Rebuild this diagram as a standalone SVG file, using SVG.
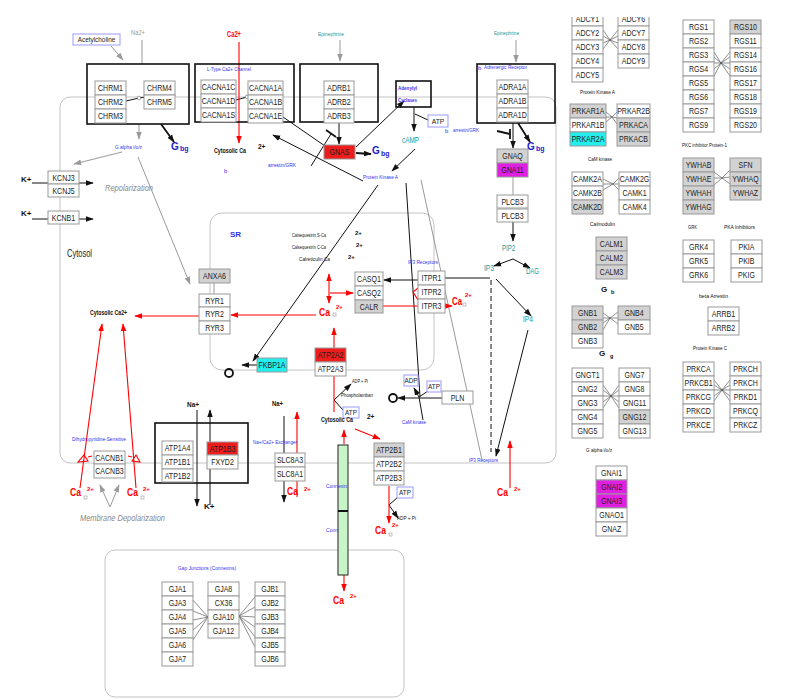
<svg xmlns="http://www.w3.org/2000/svg" width="787" height="700" viewBox="0 0 787 700">
<style>
text{font-family:"Liberation Sans",Arial,Helvetica,sans-serif}
.n rect{fill:#fff;stroke:#999;stroke-width:1}
.n text{font-size:9px;text-anchor:middle;fill:#222}
.gy rect{fill:#d2d2d2}
.rd rect{fill:#ee1c1c}
.mg rect{fill:#e020e0}
.cy rect{fill:#22eeee}
.cb rect{fill:#fff;stroke:#9999ff;stroke-width:1}
.cb text{font-size:8px;text-anchor:middle;fill:#222}
.grp{fill:none;stroke:#111;stroke-width:1.6}
.reg{fill:none;stroke:#c4c4c4;stroke-width:1}
.lb{font-size:6px;fill:#3333ee}
.lk{font-size:6px;fill:#111}
.bk{font-size:6.5px;fill:#111;font-weight:bold}
.tl{font-size:6px;fill:#119a9a}
.tm{font-size:9px;fill:#119a9a}
.ca{font-size:10px;font-weight:bold;fill:#f00}
.sp{font-size:6px;font-weight:bold;fill:#f00}
.gb{font-weight:bold;fill:#2222cc}
.k{stroke:#111;stroke-width:1;fill:none}
.kt{stroke:#111;stroke-width:1.8;fill:none}
.r{stroke:#f00;stroke-width:1.1;fill:none}
.g{stroke:#9a9a9a;stroke-width:1;fill:none}
.f{stroke:#444;stroke-width:.6;fill:none}
</style>
<defs>
<marker id="mk" markerUnits="userSpaceOnUse" markerWidth="8" markerHeight="8" viewBox="0 0 10 10" refX="9" refY="5" orient="auto"><path d="M0,1.5L10,5L0,8.5z" fill="#111"/></marker>
<marker id="mr" markerUnits="userSpaceOnUse" markerWidth="8" markerHeight="8" viewBox="0 0 10 10" refX="9" refY="5" orient="auto-start-reverse"><path d="M0,1.5L10,5L0,8.5z" fill="#f00"/></marker>
<marker id="mg" markerUnits="userSpaceOnUse" markerWidth="8" markerHeight="8" viewBox="0 0 10 10" refX="9" refY="5" orient="auto"><path d="M0,1.5L10,5L0,8.5z" fill="#9a9a9a"/></marker>
<clipPath id="clipTop"><rect x="-10" y="5" width="60" height="20"/></clipPath>
</defs>

<g id="regions">
<rect class="reg" x="60" y="97" width="496" height="366" rx="10"/>
<rect class="reg" x="210" y="213" width="224" height="157" rx="12"/>
<rect class="reg" x="105" y="550" width="299" height="147" rx="10"/>
</g>

<g id="connectors">
<line class="g" x1="111" y1="46" x2="123" y2="60" marker-end="url(#mg)"/>
<line class="g" x1="142" y1="40" x2="142" y2="64"/>
<line class="g" x1="139" y1="124" x2="139" y2="139" marker-end="url(#mg)"/>
<line class="g" x1="122" y1="152" x2="74" y2="164" marker-end="url(#mg)"/>
<line class="g" x1="138" y1="157" x2="190" y2="284" marker-end="url(#mg)"/>
<line class="g" x1="340" y1="40" x2="340" y2="61" marker-end="url(#mg)"/>
<line class="g" x1="516" y1="40" x2="516" y2="62" marker-end="url(#mg)"/>
<line class="g" x1="513" y1="177" x2="513" y2="195"/>
<line class="g" x1="421" y1="180" x2="482" y2="460"/>
<line class="g" x1="214" y1="283" x2="214" y2="294"/>
<line class="g" x1="110" y1="507" x2="100" y2="485" marker-end="url(#mg)"/>
<line class="g" x1="110" y1="507" x2="119" y2="485" marker-end="url(#mg)"/>

<line class="k" x1="32" y1="183" x2="93" y2="183" marker-end="url(#mk)"/>
<line class="k" x1="32" y1="219" x2="93" y2="219" marker-end="url(#mk)"/>
<line class="kt" x1="161" y1="124" x2="174" y2="142" marker-end="url(#mk)"/>
<line class="k" x1="339" y1="123" x2="339" y2="144" marker-end="url(#mk)"/>
<line class="kt" x1="356" y1="153" x2="371" y2="154" marker-end="url(#mk)"/>
<line class="k" x1="283" y1="117" x2="325" y2="146"/>
<line class="k" x1="311" y1="166" x2="331" y2="134"/>
<line class="kt" x1="326" y1="130" x2="336" y2="137"/>
<line class="k" x1="363" y1="181" x2="273" y2="135" marker-end="url(#mk)"/>
<line class="k" x1="378" y1="185" x2="253" y2="361" marker-end="url(#mk)"/>
<line class="k" x1="257" y1="365" x2="242" y2="365" marker-end="url(#mk)"/>
<line class="k" x1="356" y1="147" x2="404" y2="101" marker-end="url(#mk)"/>
<line class="k" x1="414" y1="107" x2="414" y2="131" marker-end="url(#mk)"/>
<line class="k" x1="415" y1="114" x2="428" y2="120"/>
<line class="k" x1="415" y1="149" x2="392" y2="171" marker-end="url(#mk)"/>
<line class="kt" x1="497" y1="131" x2="510" y2="134"/>
<line class="kt" x1="510" y1="129" x2="510" y2="139"/>
<line class="k" x1="513" y1="123" x2="513" y2="148" marker-end="url(#mk)"/>
<line class="kt" x1="518" y1="123" x2="530" y2="142" marker-end="url(#mk)"/>
<line class="k" x1="513" y1="222" x2="513" y2="241" marker-end="url(#mk)"/>
<line class="k" x1="513" y1="259" x2="494" y2="266" marker-end="url(#mk)"/>
<line class="k" x1="513" y1="259" x2="530" y2="268" marker-end="url(#mk)"/>
<line class="k" x1="496" y1="279" x2="531" y2="316" marker-end="url(#mk)"/>
<line class="k" x1="528" y1="330" x2="496" y2="456" marker-end="url(#mk)"/>
<line class="k" x1="491" y1="280" x2="491" y2="452" stroke-width="1.4" stroke-dasharray="5,3"/>
<line class="k" x1="445" y1="278" x2="490" y2="278"/>
<line class="k" x1="418" y1="280" x2="384" y2="280" marker-end="url(#mk)"/>
<line class="k" x1="334" y1="400" x2="351" y2="384" marker-end="url(#mk)"/>
<line class="k" x1="334" y1="400" x2="343" y2="410"/>
<line class="k" x1="442" y1="398" x2="398" y2="398" marker-end="url(#mk)"/>
<line class="k" x1="419" y1="397" x2="414" y2="388" marker-end="url(#mk)"/>
<line class="k" x1="419" y1="397" x2="428" y2="391"/>
<line class="k" x1="419" y1="397" x2="423" y2="420"/>
<line class="k" x1="406" y1="183" x2="420" y2="397"/>
<line class="k" x1="197" y1="410" x2="197" y2="506" marker-end="url(#mk)"/>
<line class="k" x1="210" y1="505" x2="210" y2="410" marker-end="url(#mk)"/>
<line class="k" x1="284" y1="416" x2="284" y2="502" marker-end="url(#mk)"/>
<line class="k" x1="389" y1="505" x2="398" y2="497"/>
<line class="k" x1="389" y1="505" x2="398" y2="518" marker-end="url(#mk)"/>
<circle class="kt" cx="229" cy="373" r="4" stroke-width="1.4"/>
<circle class="kt" cx="393" cy="398" r="4" stroke-width="1.4"/>
<path class="k" d="M126 101L139 98L160 95M236 100L247 97L262 96"/>
<g fill="#fff" stroke="#666" stroke-width=".6">
<circle cx="64" cy="183" r="1.8"/><circle cx="139" cy="98" r="1.8"/><circle cx="247" cy="97" r="1.8"/><circle cx="339" cy="95" r="1.8"/><circle cx="513" cy="94" r="1.8"/><circle cx="513" cy="163" r="1.8"/><circle cx="611" cy="251" r="1.5"/><circle cx="611" cy="494" r="1.5"/>
</g>

<line class="r" x1="239" y1="42" x2="239" y2="143" marker-end="url(#mr)"/>
<line class="r" x1="316" y1="315" x2="231" y2="315" marker-end="url(#mr)"/>
<line class="r" x1="199" y1="316" x2="135" y2="316" marker-end="url(#mr)"/>
<line class="r" x1="329" y1="303" x2="329" y2="274" marker-end="url(#mr)" marker-start="url(#mr)"/>
<line class="r" x1="330" y1="293" x2="353" y2="293" marker-end="url(#mr)"/>
<line class="r" x1="334" y1="348" x2="334" y2="328" marker-end="url(#mr)"/>
<line class="r" x1="334" y1="376" x2="334" y2="412"/>
<line class="r" x1="344" y1="444" x2="344" y2="430" marker-end="url(#mr)"/>
<line class="r" x1="355" y1="429" x2="380" y2="439" marker-end="url(#mr)"/>
<line class="r" x1="383" y1="306" x2="418" y2="306"/>
<line class="r" x1="445" y1="306" x2="452" y2="306" marker-end="url(#mr)"/>
<polyline class="r" points="418,288 413,292 418,300"/>
<line class="r" x1="510" y1="488" x2="510" y2="441" marker-end="url(#mr)"/>
<line class="r" x1="80" y1="488" x2="102" y2="324" marker-end="url(#mr)"/>
<line class="r" x1="136" y1="488" x2="123" y2="324" marker-end="url(#mr)"/>
<polygon class="r" points="78,462 84,455 88,461"/>
<line class="r" x1="88" y1="457" x2="92" y2="456"/>
<polygon class="r" points="132,461 136,455 140,462"/>
<line class="r" x1="128" y1="456" x2="132" y2="457"/>
<line class="r" x1="297" y1="497" x2="297" y2="412" marker-end="url(#mr)"/>
<line class="r" x1="344" y1="575" x2="344" y2="591" marker-end="url(#mr)"/>
<line class="r" x1="389" y1="486" x2="389" y2="523" marker-end="url(#mr)"/>

<path class="f" d="M603 30L610 40L618 30M603 36L610 40L618 36M603 43L610 40L618 43M603 49L610 40L618 49"/>
<path class="f" d="M606 112L612 117L617 112M606 117L612 117L617 118M606 122L612 117L617 124"/>
<path class="f" d="M603 179L613 184L619 178M603 184L613 184L619 184M603 190L613 184L619 190"/>
<path class="f" d="M603 313L610 318L618 312M603 318L610 318L618 318M603 323L610 318L618 324M603 330L610 318"/>
<path class="f" d="M603 385L611 396L619 385M603 390L611 396L619 390M603 396L611 396L619 396M603 402L611 396L619 402M603 408L611 396L619 408"/>
<path class="f" d="M714 52L721 63L730 52M714 57L721 63L730 57M714 63L721 63L730 63M714 69L721 63L730 69M714 76L721 63L730 76"/>
<path class="f" d="M714 172L722 178L730 170M714 178L722 178L730 177M714 185L722 178L730 184"/>
<path class="f" d="M714 380L722 390L730 380M714 385L722 390L730 385M714 390L722 390L730 390M714 396L722 390L730 396M714 401L722 390L730 401"/>
<path class="f" d="M193 600L208 617M193 611L208 617M193 620L208 617M193 630L208 617M193 640L208 617M239 616L255 597M239 616L255 607M239 616L255 617M239 616L255 627M239 616L255 637M239 616L255 647"/>
</g>

<g id="groups">
<g id="grp-muscarinic"><rect class="grp" x="87" y="64" width="102" height="60"/></g>
<g id="grp-ltype"><rect class="grp" x="195" y="64" width="99" height="58"/></g>
<g id="grp-adrb"><rect class="grp" x="300" y="64" width="78" height="58"/></g>
<g id="grp-adra"><rect class="grp" x="477" y="64" width="78" height="59"/></g>
<g id="grp-adenylyl"><rect class="grp" x="396" y="81" width="35" height="26"/></g>
<g id="grp-nak"><rect class="grp" x="155" y="423" width="93" height="60"/></g>
</g>

<g id="nodes">
<g id="CHRM1" class="n" transform="translate(95 81)"><rect width="31" height="14"/><text transform="translate(15.5 10.3) scale(.78 1)">CHRM1</text></g>
<g id="CHRM2" class="n" transform="translate(95 95)"><rect width="31" height="14"/><text transform="translate(15.5 10.3) scale(.78 1)">CHRM2</text></g>
<g id="CHRM3" class="n" transform="translate(95 109)"><rect width="31" height="14"/><text transform="translate(15.5 10.3) scale(.78 1)">CHRM3</text></g>
<g id="CHRM4" class="n" transform="translate(144 81)"><rect width="31" height="14"/><text transform="translate(15.5 10.3) scale(.78 1)">CHRM4</text></g>
<g id="CHRM5" class="n" transform="translate(144 95)"><rect width="31" height="14"/><text transform="translate(15.5 10.3) scale(.78 1)">CHRM5</text></g>
<g id="CACNA1C" class="n" transform="translate(201 80)"><rect width="35" height="14"/><text transform="translate(17.5 10.3) scale(.78 1)">CACNA1C</text></g>
<g id="CACNA1D" class="n" transform="translate(201 94)"><rect width="35" height="14"/><text transform="translate(17.5 10.3) scale(.78 1)">CACNA1D</text></g>
<g id="CACNA1S" class="n" transform="translate(201 108)"><rect width="35" height="14"/><text transform="translate(17.5 10.3) scale(.78 1)">CACNA1S</text></g>
<g id="CACNA1A" class="n" transform="translate(248 81)"><rect width="35" height="14"/><text transform="translate(17.5 10.3) scale(.78 1)">CACNA1A</text></g>
<g id="CACNA1B" class="n" transform="translate(248 95)"><rect width="35" height="14"/><text transform="translate(17.5 10.3) scale(.78 1)">CACNA1B</text></g>
<g id="CACNA1E" class="n" transform="translate(248 109)"><rect width="35" height="14"/><text transform="translate(17.5 10.3) scale(.78 1)">CACNA1E</text></g>
<g id="ADRB1" class="n" transform="translate(324 81)"><rect width="30" height="14"/><text transform="translate(15 10.3) scale(.78 1)">ADRB1</text></g>
<g id="ADRB2" class="n" transform="translate(324 95)"><rect width="30" height="14"/><text transform="translate(15 10.3) scale(.78 1)">ADRB2</text></g>
<g id="ADRB3" class="n" transform="translate(324 109)"><rect width="30" height="14"/><text transform="translate(15 10.3) scale(.78 1)">ADRB3</text></g>
<g id="ADRA1A" class="n" transform="translate(497 80)"><rect width="31" height="14"/><text transform="translate(15.5 10.3) scale(.78 1)">ADRA1A</text></g>
<g id="ADRA1B" class="n" transform="translate(497 94)"><rect width="31" height="14"/><text transform="translate(15.5 10.3) scale(.78 1)">ADRA1B</text></g>
<g id="ADRA1D" class="n" transform="translate(497 108)"><rect width="31" height="14"/><text transform="translate(15.5 10.3) scale(.78 1)">ADRA1D</text></g>
<g id="GNAS" class="n rd" transform="translate(324 145)"><rect width="31" height="14"/><text transform="translate(15.5 10.3) scale(.78 1)">GNAS</text></g>
<g id="GNAQ" class="n gy" transform="translate(497 149)"><rect width="31" height="14"/><text transform="translate(15.5 10.3) scale(.78 1)">GNAQ</text></g>
<g id="GNA11" class="n mg" transform="translate(497 163)"><rect width="31" height="14"/><text transform="translate(15.5 10.3) scale(.78 1)">GNA11</text></g>
<g id="PLCB3-a" class="n" transform="translate(497 195)"><rect width="31" height="13"/><text transform="translate(15.5 9.8) scale(.78 1)">PLCB3</text></g>
<g id="PLCB3-b" class="n" transform="translate(497 209)"><rect width="31" height="13"/><text transform="translate(15.5 9.8) scale(.78 1)">PLCB3</text></g>
<g id="KCNJ3" class="n" transform="translate(48 171)"><rect width="31" height="13"/><text transform="translate(15.5 9.8) scale(.78 1)">KCNJ3</text></g>
<g id="KCNJ5" class="n" transform="translate(48 184)"><rect width="31" height="13"/><text transform="translate(15.5 9.8) scale(.78 1)">KCNJ5</text></g>
<g id="KCNB1" class="n" transform="translate(48 211)"><rect width="31" height="13"/><text transform="translate(15.5 9.8) scale(.78 1)">KCNB1</text></g>
<g id="ANXA6" class="n gy" transform="translate(199 269)"><rect width="31" height="14"/><text transform="translate(15.5 10.3) scale(.78 1)">ANXA6</text></g>
<g id="RYR1" class="n" transform="translate(199 294)"><rect width="31" height="13"/><text transform="translate(15.5 9.8) scale(.78 1)">RYR1</text></g>
<g id="RYR2" class="n" transform="translate(199 307)"><rect width="31" height="14"/><text transform="translate(15.5 10.3) scale(.78 1)">RYR2</text></g>
<g id="RYR3" class="n" transform="translate(199 321)"><rect width="31" height="13"/><text transform="translate(15.5 9.8) scale(.78 1)">RYR3</text></g>
<g id="CASQ1" class="n" transform="translate(355 272)"><rect width="28" height="14"/><text transform="translate(14 10.3) scale(.78 1)">CASQ1</text></g>
<g id="CASQ2" class="n" transform="translate(355 286)"><rect width="28" height="14"/><text transform="translate(14 10.3) scale(.78 1)">CASQ2</text></g>
<g id="CALR" class="n gy" transform="translate(355 300)"><rect width="28" height="13"/><text transform="translate(14 9.8) scale(.78 1)">CALR</text></g>
<g id="ITPR1" class="n" transform="translate(418 271)"><rect width="27" height="14"/><text transform="translate(13.5 10.3) scale(.78 1)">ITPR1</text></g>
<g id="ITPR2" class="n" transform="translate(418 285)"><rect width="27" height="14"/><text transform="translate(13.5 10.3) scale(.78 1)">ITPR2</text></g>
<g id="ITPR3" class="n" transform="translate(418 299)"><rect width="27" height="14"/><text transform="translate(13.5 10.3) scale(.78 1)">ITPR3</text></g>
<g id="FKBP1A" class="n cy" transform="translate(257 358)"><rect width="30" height="14"/><text transform="translate(15 10.3) scale(.78 1)">FKBP1A</text></g>
<g id="ATP2A2" class="n rd" transform="translate(315 348)"><rect width="31" height="14"/><text transform="translate(15.5 10.3) scale(.78 1)">ATP2A2</text></g>
<g id="ATP2A3" class="n" transform="translate(315 362)"><rect width="31" height="14"/><text transform="translate(15.5 10.3) scale(.78 1)">ATP2A3</text></g>
<g id="PLN" class="n" transform="translate(442 391)"><rect width="31" height="13"/><text transform="translate(15.5 9.8) scale(.78 1)">PLN</text></g>
<g id="ATP1A4" class="n" transform="translate(162 441)"><rect width="31" height="14"/><text transform="translate(15.5 10.3) scale(.78 1)">ATP1A4</text></g>
<g id="ATP1B1" class="n" transform="translate(162 455)"><rect width="31" height="14"/><text transform="translate(15.5 10.3) scale(.78 1)">ATP1B1</text></g>
<g id="ATP1B2" class="n" transform="translate(162 469)"><rect width="31" height="13"/><text transform="translate(15.5 9.8) scale(.78 1)">ATP1B2</text></g>
<g id="ATP1B3" class="n rd" transform="translate(207 442)"><rect width="31" height="13"/><text transform="translate(15.5 9.8) scale(.78 1)">ATP1B3</text></g>
<g id="FXYD2" class="n" transform="translate(207 455)"><rect width="31" height="14"/><text transform="translate(15.5 10.3) scale(.78 1)">FXYD2</text></g>
<g id="SLC8A3" class="n" transform="translate(275 453)"><rect width="30" height="14"/><text transform="translate(15 10.3) scale(.78 1)">SLC8A3</text></g>
<g id="SLC8A1" class="n" transform="translate(275 467)"><rect width="30" height="14"/><text transform="translate(15 10.3) scale(.78 1)">SLC8A1</text></g>
<g id="CACNB1" class="n" transform="translate(94 451)"><rect width="31" height="13"/><text transform="translate(15.5 9.8) scale(.78 1)">CACNB1</text></g>
<g id="CACNB3" class="n" transform="translate(94 464)"><rect width="31" height="14"/><text transform="translate(15.5 10.3) scale(.78 1)">CACNB3</text></g>
<g id="ATP2B1" class="n gy" transform="translate(374 443)"><rect width="30" height="14"/><text transform="translate(15 10.3) scale(.78 1)">ATP2B1</text></g>
<g id="ATP2B2" class="n" transform="translate(374 457)"><rect width="30" height="14"/><text transform="translate(15 10.3) scale(.78 1)">ATP2B2</text></g>
<g id="ATP2B3" class="n" transform="translate(374 471)"><rect width="30" height="14"/><text transform="translate(15 10.3) scale(.78 1)">ATP2B3</text></g>
<g id="connexin"><rect x="338" y="445" width="10" height="130" fill="#c8f5c8" stroke="#222" stroke-width="1"/><line x1="338" y1="511" x2="348" y2="511" stroke="#111" stroke-width="2"/></g>

<g id="Acetylcholine" class="cb" transform="translate(73 34)"><rect width="47" height="11"/><text transform="translate(23.5 8.3) scale(.8 1)" font-size="7.5">Acetylcholine</text></g>
<g id="ATP-a" class="cb" transform="translate(428 115)"><rect width="20" height="12"/><text transform="translate(10 9) scale(.85 1)">ATP</text></g>
<g id="ATP-b" class="cb" transform="translate(343 407)"><rect width="16" height="11"/><text transform="translate(8 8.3) scale(.8 1)">ATP</text></g>
<g id="ADP-c" class="cb" transform="translate(404 375)"><rect width="14" height="11"/><text transform="translate(7 8.3) scale(.8 1)">ADP</text></g>
<g id="ATP-c" class="cb" transform="translate(427 381)"><rect width="14" height="11"/><text transform="translate(7 8.3) scale(.8 1)">ATP</text></g>
<g id="ATP-d" class="cb" transform="translate(397 487)"><rect width="16" height="11"/><text transform="translate(8 8.3) scale(.8 1)">ATP</text></g>

<g id="GJA1" class="n" transform="translate(162 582)"><rect width="31" height="14"/><text transform="translate(15.5 10.3) scale(.78 1)">GJA1</text></g>
<g id="GJA3" class="n" transform="translate(162 596)"><rect width="31" height="14"/><text transform="translate(15.5 10.3) scale(.78 1)">GJA3</text></g>
<g id="GJA4" class="n" transform="translate(162 610)"><rect width="31" height="14"/><text transform="translate(15.5 10.3) scale(.78 1)">GJA4</text></g>
<g id="GJA5" class="n" transform="translate(162 624)"><rect width="31" height="14"/><text transform="translate(15.5 10.3) scale(.78 1)">GJA5</text></g>
<g id="GJA6" class="n" transform="translate(162 638)"><rect width="31" height="14"/><text transform="translate(15.5 10.3) scale(.78 1)">GJA6</text></g>
<g id="GJA7" class="n" transform="translate(162 652)"><rect width="31" height="14"/><text transform="translate(15.5 10.3) scale(.78 1)">GJA7</text></g>
<g id="GJA8" class="n" transform="translate(208 582)"><rect width="31" height="14"/><text transform="translate(15.5 10.3) scale(.78 1)">GJA8</text></g>
<g id="CX36" class="n" transform="translate(208 596)"><rect width="31" height="14"/><text transform="translate(15.5 10.3) scale(.78 1)">CX36</text></g>
<g id="GJA10" class="n" transform="translate(208 610)"><rect width="31" height="14"/><text transform="translate(15.5 10.3) scale(.78 1)">GJA10</text></g>
<g id="GJA12" class="n" transform="translate(208 624)"><rect width="31" height="14"/><text transform="translate(15.5 10.3) scale(.78 1)">GJA12</text></g>
<g id="GJB1" class="n" transform="translate(255 582)"><rect width="30" height="14"/><text transform="translate(15 10.3) scale(.78 1)">GJB1</text></g>
<g id="GJB2" class="n" transform="translate(255 596)"><rect width="30" height="14"/><text transform="translate(15 10.3) scale(.78 1)">GJB2</text></g>
<g id="GJB3" class="n" transform="translate(255 610)"><rect width="30" height="14"/><text transform="translate(15 10.3) scale(.78 1)">GJB3</text></g>
<g id="GJB4" class="n" transform="translate(255 624)"><rect width="30" height="14"/><text transform="translate(15 10.3) scale(.78 1)">GJB4</text></g>
<g id="GJB5" class="n" transform="translate(255 638)"><rect width="30" height="14"/><text transform="translate(15 10.3) scale(.78 1)">GJB5</text></g>
<g id="GJB6" class="n" transform="translate(255 652)"><rect width="30" height="14"/><text transform="translate(15 10.3) scale(.78 1)">GJB6</text></g>

<g id="ADCY1" class="n" clip-path="url(#clipTop)" transform="translate(572 12)"><rect width="31" height="14"/><text transform="translate(15.5 10.3) scale(.78 1)">ADCY1</text></g>
<g id="ADCY2" class="n" transform="translate(572 26)"><rect width="31" height="14"/><text transform="translate(15.5 10.3) scale(.78 1)">ADCY2</text></g>
<g id="ADCY3" class="n" transform="translate(572 40)"><rect width="31" height="14"/><text transform="translate(15.5 10.3) scale(.78 1)">ADCY3</text></g>
<g id="ADCY4" class="n" transform="translate(572 54)"><rect width="31" height="14"/><text transform="translate(15.5 10.3) scale(.78 1)">ADCY4</text></g>
<g id="ADCY5" class="n" transform="translate(572 68)"><rect width="31" height="14"/><text transform="translate(15.5 10.3) scale(.78 1)">ADCY5</text></g>
<g id="ADCY6" class="n" clip-path="url(#clipTop)" transform="translate(618 12)"><rect width="31" height="14"/><text transform="translate(15.5 10.3) scale(.78 1)">ADCY6</text></g>
<g id="ADCY7" class="n" transform="translate(618 26)"><rect width="31" height="14"/><text transform="translate(15.5 10.3) scale(.78 1)">ADCY7</text></g>
<g id="ADCY8" class="n" transform="translate(618 40)"><rect width="31" height="14"/><text transform="translate(15.5 10.3) scale(.78 1)">ADCY8</text></g>
<g id="ADCY9" class="n" transform="translate(618 54)"><rect width="31" height="14"/><text transform="translate(15.5 10.3) scale(.78 1)">ADCY9</text></g>

<g id="PRKAR1A" class="n gy" transform="translate(570 104)"><rect width="36" height="14"/><text transform="translate(18 10.3) scale(.78 1)">PRKAR1A</text></g>
<g id="PRKAR1B" class="n" transform="translate(570 118)"><rect width="36" height="14"/><text transform="translate(18 10.3) scale(.78 1)">PRKAR1B</text></g>
<g id="PRKAR2A" class="n cy" transform="translate(570 132)"><rect width="36" height="14"/><text transform="translate(18 10.3) scale(.78 1)">PRKAR2A</text></g>
<g id="PRKAR2B" class="n" transform="translate(617 104)"><rect width="33" height="14"/><text transform="translate(16.5 10.3) scale(.78 1)">PRKAR2B</text></g>
<g id="PRKACA" class="n gy" transform="translate(617 118)"><rect width="33" height="14"/><text transform="translate(16.5 10.3) scale(.78 1)">PRKACA</text></g>
<g id="PRKACB" class="n gy" transform="translate(617 132)"><rect width="33" height="14"/><text transform="translate(16.5 10.3) scale(.78 1)">PRKACB</text></g>

<g id="CAMK2A" class="n" transform="translate(572 172)"><rect width="31" height="14"/><text transform="translate(15.5 10.3) scale(.78 1)">CAMK2A</text></g>
<g id="CAMK2B" class="n" transform="translate(572 186)"><rect width="31" height="14"/><text transform="translate(15.5 10.3) scale(.78 1)">CAMK2B</text></g>
<g id="CAMK2D" class="n gy" transform="translate(572 200)"><rect width="31" height="14"/><text transform="translate(15.5 10.3) scale(.78 1)">CAMK2D</text></g>
<g id="CAMK2G" class="n" transform="translate(619 172)"><rect width="31" height="14"/><text transform="translate(15.5 10.3) scale(.78 1)">CAMK2G</text></g>
<g id="CAMK1" class="n" transform="translate(619 186)"><rect width="31" height="14"/><text transform="translate(15.5 10.3) scale(.78 1)">CAMK1</text></g>
<g id="CAMK4" class="n" transform="translate(619 200)"><rect width="31" height="14"/><text transform="translate(15.5 10.3) scale(.78 1)">CAMK4</text></g>

<g id="CALM1" class="n gy" transform="translate(596 237)"><rect width="31" height="14"/><text transform="translate(15.5 10.3) scale(.78 1)">CALM1</text></g>
<g id="CALM2" class="n gy" transform="translate(596 251)"><rect width="31" height="14"/><text transform="translate(15.5 10.3) scale(.78 1)">CALM2</text></g>
<g id="CALM3" class="n gy" transform="translate(596 265)"><rect width="31" height="14"/><text transform="translate(15.5 10.3) scale(.78 1)">CALM3</text></g>

<g id="GNB1" class="n gy" transform="translate(572 306)"><rect width="31" height="14"/><text transform="translate(15.5 10.3) scale(.78 1)">GNB1</text></g>
<g id="GNB2" class="n gy" transform="translate(572 320)"><rect width="31" height="14"/><text transform="translate(15.5 10.3) scale(.78 1)">GNB2</text></g>
<g id="GNB3" class="n" transform="translate(572 334)"><rect width="31" height="14"/><text transform="translate(15.5 10.3) scale(.78 1)">GNB3</text></g>
<g id="GNB4" class="n gy" transform="translate(618 306)"><rect width="32" height="14"/><text transform="translate(16 10.3) scale(.78 1)">GNB4</text></g>
<g id="GNB5" class="n" transform="translate(618 320)"><rect width="32" height="14"/><text transform="translate(16 10.3) scale(.78 1)">GNB5</text></g>

<g id="GNGT1" class="n" transform="translate(572 368)"><rect width="31" height="14"/><text transform="translate(15.5 10.3) scale(.78 1)">GNGT1</text></g>
<g id="GNG2" class="n" transform="translate(572 382)"><rect width="31" height="14"/><text transform="translate(15.5 10.3) scale(.78 1)">GNG2</text></g>
<g id="GNG3" class="n" transform="translate(572 396)"><rect width="31" height="14"/><text transform="translate(15.5 10.3) scale(.78 1)">GNG3</text></g>
<g id="GNG4" class="n" transform="translate(572 410)"><rect width="31" height="14"/><text transform="translate(15.5 10.3) scale(.78 1)">GNG4</text></g>
<g id="GNG5" class="n" transform="translate(572 424)"><rect width="31" height="14"/><text transform="translate(15.5 10.3) scale(.78 1)">GNG5</text></g>
<g id="GNG7" class="n" transform="translate(619 368)"><rect width="31" height="14"/><text transform="translate(15.5 10.3) scale(.78 1)">GNG7</text></g>
<g id="GNG8" class="n" transform="translate(619 382)"><rect width="31" height="14"/><text transform="translate(15.5 10.3) scale(.78 1)">GNG8</text></g>
<g id="GNG11" class="n" transform="translate(619 396)"><rect width="31" height="14"/><text transform="translate(15.5 10.3) scale(.78 1)">GNG11</text></g>
<g id="GNG12" class="n gy" transform="translate(619 410)"><rect width="31" height="14"/><text transform="translate(15.5 10.3) scale(.78 1)">GNG12</text></g>
<g id="GNG13" class="n" transform="translate(619 424)"><rect width="31" height="14"/><text transform="translate(15.5 10.3) scale(.78 1)">GNG13</text></g>

<g id="GNAI1" class="n" transform="translate(596 466)"><rect width="31" height="14"/><text transform="translate(15.5 10.3) scale(.78 1)">GNAI1</text></g>
<g id="GNAI2" class="n mg" transform="translate(596 480)"><rect width="31" height="14"/><text transform="translate(15.5 10.3) scale(.78 1)">GNAI2</text></g>
<g id="GNAI3" class="n mg" transform="translate(596 494)"><rect width="31" height="14"/><text transform="translate(15.5 10.3) scale(.78 1)">GNAI3</text></g>
<g id="GNAO1" class="n" transform="translate(596 508)"><rect width="31" height="14"/><text transform="translate(15.5 10.3) scale(.78 1)">GNAO1</text></g>
<g id="GNAZ" class="n" transform="translate(596 522)"><rect width="31" height="14"/><text transform="translate(15.5 10.3) scale(.78 1)">GNAZ</text></g>

<g id="RGS1" class="n" transform="translate(683 20)"><rect width="31" height="14"/><text transform="translate(15.5 10.3) scale(.78 1)">RGS1</text></g>
<g id="RGS2" class="n" transform="translate(683 34)"><rect width="31" height="14"/><text transform="translate(15.5 10.3) scale(.78 1)">RGS2</text></g>
<g id="RGS3" class="n" transform="translate(683 48)"><rect width="31" height="14"/><text transform="translate(15.5 10.3) scale(.78 1)">RGS3</text></g>
<g id="RGS4" class="n" transform="translate(683 62)"><rect width="31" height="14"/><text transform="translate(15.5 10.3) scale(.78 1)">RGS4</text></g>
<g id="RGS5" class="n" transform="translate(683 76)"><rect width="31" height="14"/><text transform="translate(15.5 10.3) scale(.78 1)">RGS5</text></g>
<g id="RGS6" class="n" transform="translate(683 90)"><rect width="31" height="14"/><text transform="translate(15.5 10.3) scale(.78 1)">RGS6</text></g>
<g id="RGS7" class="n" transform="translate(683 104)"><rect width="31" height="14"/><text transform="translate(15.5 10.3) scale(.78 1)">RGS7</text></g>
<g id="RGS9" class="n" transform="translate(683 118)"><rect width="31" height="14"/><text transform="translate(15.5 10.3) scale(.78 1)">RGS9</text></g>
<g id="RGS10" class="n gy" transform="translate(730 20)"><rect width="31" height="14"/><text transform="translate(15.5 10.3) scale(.78 1)">RGS10</text></g>
<g id="RGS11" class="n" transform="translate(730 34)"><rect width="31" height="14"/><text transform="translate(15.5 10.3) scale(.78 1)">RGS11</text></g>
<g id="RGS14" class="n" transform="translate(730 48)"><rect width="31" height="14"/><text transform="translate(15.5 10.3) scale(.78 1)">RGS14</text></g>
<g id="RGS16" class="n" transform="translate(730 62)"><rect width="31" height="14"/><text transform="translate(15.5 10.3) scale(.78 1)">RGS16</text></g>
<g id="RGS17" class="n" transform="translate(730 76)"><rect width="31" height="14"/><text transform="translate(15.5 10.3) scale(.78 1)">RGS17</text></g>
<g id="RGS18" class="n" transform="translate(730 90)"><rect width="31" height="14"/><text transform="translate(15.5 10.3) scale(.78 1)">RGS18</text></g>
<g id="RGS19" class="n" transform="translate(730 104)"><rect width="31" height="14"/><text transform="translate(15.5 10.3) scale(.78 1)">RGS19</text></g>
<g id="RGS20" class="n" transform="translate(730 118)"><rect width="31" height="14"/><text transform="translate(15.5 10.3) scale(.78 1)">RGS20</text></g>

<g id="YWHAB" class="n gy" transform="translate(683 158)"><rect width="31" height="14"/><text transform="translate(15.5 10.3) scale(.78 1)">YWHAB</text></g>
<g id="YWHAE" class="n gy" transform="translate(683 172)"><rect width="31" height="14"/><text transform="translate(15.5 10.3) scale(.78 1)">YWHAE</text></g>
<g id="YWHAH" class="n gy" transform="translate(683 186)"><rect width="31" height="14"/><text transform="translate(15.5 10.3) scale(.78 1)">YWHAH</text></g>
<g id="YWHAG" class="n gy" transform="translate(683 200)"><rect width="31" height="14"/><text transform="translate(15.5 10.3) scale(.78 1)">YWHAG</text></g>
<g id="SFN" class="n gy" transform="translate(730 158)"><rect width="31" height="14"/><text transform="translate(15.5 10.3) scale(.78 1)">SFN</text></g>
<g id="YWHAQ" class="n gy" transform="translate(730 172)"><rect width="31" height="14"/><text transform="translate(15.5 10.3) scale(.78 1)">YWHAQ</text></g>
<g id="YWHAZ" class="n gy" transform="translate(730 186)"><rect width="31" height="14"/><text transform="translate(15.5 10.3) scale(.78 1)">YWHAZ</text></g>

<g id="GRK4" class="n" transform="translate(683 240)"><rect width="31" height="14"/><text transform="translate(15.5 10.3) scale(.78 1)">GRK4</text></g>
<g id="GRK5" class="n" transform="translate(683 254)"><rect width="31" height="14"/><text transform="translate(15.5 10.3) scale(.78 1)">GRK5</text></g>
<g id="GRK6" class="n" transform="translate(683 268)"><rect width="31" height="14"/><text transform="translate(15.5 10.3) scale(.78 1)">GRK6</text></g>
<g id="PKIA" class="n" transform="translate(731 240)"><rect width="31" height="14"/><text transform="translate(15.5 10.3) scale(.78 1)">PKIA</text></g>
<g id="PKIB" class="n" transform="translate(731 254)"><rect width="31" height="14"/><text transform="translate(15.5 10.3) scale(.78 1)">PKIB</text></g>
<g id="PKIG" class="n" transform="translate(731 268)"><rect width="31" height="14"/><text transform="translate(15.5 10.3) scale(.78 1)">PKIG</text></g>
<g id="ARRB1" class="n" transform="translate(708 307)"><rect width="31" height="14"/><text transform="translate(15.5 10.3) scale(.78 1)">ARRB1</text></g>
<g id="ARRB2" class="n" transform="translate(708 321)"><rect width="31" height="14"/><text transform="translate(15.5 10.3) scale(.78 1)">ARRB2</text></g>

<g id="PRKCA" class="n" transform="translate(683 362)"><rect width="31" height="14"/><text transform="translate(15.5 10.3) scale(.78 1)">PRKCA</text></g>
<g id="PRKCB1" class="n" transform="translate(683 376)"><rect width="31" height="14"/><text transform="translate(15.5 10.3) scale(.78 1)">PRKCB1</text></g>
<g id="PRKCG" class="n" transform="translate(683 390)"><rect width="31" height="14"/><text transform="translate(15.5 10.3) scale(.78 1)">PRKCG</text></g>
<g id="PRKCD" class="n" transform="translate(683 404)"><rect width="31" height="14"/><text transform="translate(15.5 10.3) scale(.78 1)">PRKCD</text></g>
<g id="PRKCE" class="n" transform="translate(683 418)"><rect width="31" height="14"/><text transform="translate(15.5 10.3) scale(.78 1)">PRKCE</text></g>
<g id="PRKCH-a" class="n" transform="translate(730 362)"><rect width="31" height="14"/><text transform="translate(15.5 10.3) scale(.78 1)">PRKCH</text></g>
<g id="PRKCH-b" class="n" transform="translate(730 376)"><rect width="31" height="14"/><text transform="translate(15.5 10.3) scale(.78 1)">PRKCH</text></g>
<g id="PRKD1" class="n" transform="translate(730 390)"><rect width="31" height="14"/><text transform="translate(15.5 10.3) scale(.78 1)">PRKD1</text></g>
<g id="PRKCQ" class="n" transform="translate(730 404)"><rect width="31" height="14"/><text transform="translate(15.5 10.3) scale(.78 1)">PRKCQ</text></g>
<g id="PRKCZ" class="n" transform="translate(730 418)"><rect width="31" height="14"/><text transform="translate(15.5 10.3) scale(.78 1)">PRKCZ</text></g>
</g>

<g id="labels">
<text x="131" y="35" font-size="8" fill="#999" textLength="14" lengthAdjust="spacingAndGlyphs">Na2+</text>
<text class="lb" x="115" y="149" textLength="27" lengthAdjust="spacingAndGlyphs">G alpha i/o/z</text>
<text class="gb" x="171" y="150" font-size="10">G</text><text class="gb" x="180" y="151" font-size="7">bg</text>
<text x="105" y="191" font-size="9" font-style="italic" fill="#888" textLength="48" lengthAdjust="spacingAndGlyphs">Repolarization</text>
<text x="21" y="182" font-size="8" font-weight="bold" fill="#111">K+</text>
<text x="21" y="216" font-size="8" font-weight="bold" fill="#111">K+</text>
<text x="67" y="257" font-size="11" fill="#222" textLength="25" lengthAdjust="spacingAndGlyphs">Cytosol</text>
<text x="227" y="37" font-size="9" font-weight="bold" fill="#f00" textLength="14" lengthAdjust="spacingAndGlyphs">Ca2+</text>
<text class="lb" x="207" y="71" textLength="44" lengthAdjust="spacingAndGlyphs">L-Type Ca2+ Channel</text>
<text class="bk" x="214" y="153" textLength="32" lengthAdjust="spacingAndGlyphs">Cytosolic Ca</text>
<text class="bk" x="258" y="149" font-size="6">2+</text>
<text class="lb" x="224" y="173">b</text>
<text class="lb" x="268" y="167" textLength="28" lengthAdjust="spacingAndGlyphs">arrestin/GRK</text>
<text class="tl" x="318" y="36" textLength="26" lengthAdjust="spacingAndGlyphs">Epinephrine</text>
<text class="tl" x="494" y="35" textLength="25" lengthAdjust="spacingAndGlyphs">Epinephrine</text>
<text class="gb" x="372" y="154" font-size="10">G</text><text class="gb" x="381" y="156" font-size="7">bg</text>
<text class="lb" x="363" y="179" textLength="35" lengthAdjust="spacingAndGlyphs">Protein Kinase A</text>
<text class="lb" x="398" y="90" font-weight="bold" textLength="19" lengthAdjust="spacingAndGlyphs">Adenylyl</text>
<text class="lb" x="398" y="102" font-weight="bold" textLength="19" lengthAdjust="spacingAndGlyphs">Cyclases</text>
<text class="tm" x="402" y="143" textLength="17" lengthAdjust="spacingAndGlyphs">cAMP</text>
<text class="lb" x="445" y="133">b</text>
<text class="lb" x="453" y="132" textLength="26" lengthAdjust="spacingAndGlyphs">arrestin/GRK</text>
<text class="lb" x="478" y="70" font-size="5">b</text>
<text class="lb" x="484" y="69" textLength="43" lengthAdjust="spacingAndGlyphs">Adrenergic Receptor</text>
<text class="gb" x="527" y="150" font-size="10">G</text><text class="gb" x="536" y="151" font-size="7">bg</text>
<text class="tm" x="502" y="251" textLength="13" lengthAdjust="spacingAndGlyphs">PIP2</text>
<text class="tm" x="484" y="271" textLength="10" lengthAdjust="spacingAndGlyphs">IP3</text>
<text class="tm" x="526" y="274" textLength="13" lengthAdjust="spacingAndGlyphs">DAG</text>
<text class="tm" x="523" y="322" textLength="10" lengthAdjust="spacingAndGlyphs">IP4</text>
<text class="lb" x="408" y="264" textLength="30" lengthAdjust="spacingAndGlyphs">IP3 Receptors</text>
<text class="lb" x="469" y="462" textLength="29" lengthAdjust="spacingAndGlyphs">IP3 Receptors</text>
<text x="230" y="237" font-size="8" font-weight="bold" fill="#3333ee">SR</text>
<text class="lk" x="292" y="237" textLength="34" lengthAdjust="spacingAndGlyphs">Calsequestrin S-Ca</text>
<text class="lk" x="355" y="235" font-weight="bold">2+</text>
<text class="lk" x="292" y="249" textLength="34" lengthAdjust="spacingAndGlyphs">Calsequestrin C-Ca</text>
<text class="lk" x="356" y="247" font-weight="bold">2+</text>
<text class="lk" x="299" y="261" textLength="31" lengthAdjust="spacingAndGlyphs">Calreticulin Ca</text>
<text class="lk" x="348" y="259" font-weight="bold">2+</text>
<text class="ca" x="319" y="316" textLength="11" lengthAdjust="spacingAndGlyphs">Ca</text><text class="sp" x="336" y="309">2+</text>
<rect x="333" y="313" width="3" height="3" fill="none" stroke="#999" stroke-width=".6"/>
<text class="ca" x="452" y="305" font-size="9" textLength="10" lengthAdjust="spacingAndGlyphs">Ca</text><text class="sp" x="465" y="297" font-size="5">2+</text>
<rect x="463" y="303" width="3" height="3" fill="none" stroke="#999" stroke-width=".6"/>
<text class="bk" x="90" y="315" textLength="37" lengthAdjust="spacingAndGlyphs">Cytosolic Ca2+</text>
<text class="lb" x="72" y="441" textLength="54" lengthAdjust="spacingAndGlyphs">Dihydropyridine-Sensitive</text>
<text class="ca" x="70" y="496" textLength="11" lengthAdjust="spacingAndGlyphs">Ca</text><text class="sp" x="87" y="491">2+</text>
<rect x="84" y="496" width="3" height="3" fill="none" stroke="#999" stroke-width=".6"/>
<text class="ca" x="127" y="496" textLength="11" lengthAdjust="spacingAndGlyphs">Ca</text><text class="sp" x="143" y="491">2+</text>
<rect x="141" y="496" width="3" height="3" fill="none" stroke="#999" stroke-width=".6"/>
<text x="80" y="521" font-size="9" font-style="italic" fill="#888" textLength="85" lengthAdjust="spacingAndGlyphs">Membrane Depolarization</text>
<text x="187" y="407" font-size="8" font-weight="bold" fill="#111" textLength="12" lengthAdjust="spacingAndGlyphs">Na+</text>
<text x="204" y="509" font-size="8" font-weight="bold" fill="#111">K+</text>
<text x="272" y="406" font-size="8" font-weight="bold" fill="#111" textLength="11" lengthAdjust="spacingAndGlyphs">Na+</text>
<text class="lb" x="253" y="444" textLength="44" lengthAdjust="spacingAndGlyphs">Na+/Ca2+ Exchanger</text>
<text class="ca" x="287" y="495" textLength="11" lengthAdjust="spacingAndGlyphs">Ca</text><text class="sp" x="304" y="491">2+</text>
<text class="lk" x="352" y="383" font-size="5" textLength="16" lengthAdjust="spacingAndGlyphs">ADP + Pi</text>
<text class="lk" x="341" y="397" font-size="5" textLength="32" lengthAdjust="spacingAndGlyphs">Phospholamban</text>
<text class="bk" x="321" y="422" textLength="32" lengthAdjust="spacingAndGlyphs">Cytosolic Ca</text>
<text class="bk" x="367" y="419" font-size="6">2+</text>
<text class="lb" x="402" y="424" textLength="24" lengthAdjust="spacingAndGlyphs">CaM kinase</text>
<text class="lb" x="326" y="488" textLength="21" lengthAdjust="spacingAndGlyphs">Connexin</text>
<text class="lb" x="326" y="532" textLength="12" lengthAdjust="spacingAndGlyphs">Conn</text>
<text class="ca" x="333" y="604" textLength="11" lengthAdjust="spacingAndGlyphs">Ca</text><text class="sp" x="350" y="598">2+</text>
<text class="ca" x="375" y="534" textLength="11" lengthAdjust="spacingAndGlyphs">Ca</text><text class="sp" x="392" y="527">2+</text>
<rect x="389" y="533" width="3" height="3" fill="none" stroke="#999" stroke-width=".6"/>
<text class="lk" x="397" y="520" font-size="5" textLength="19" lengthAdjust="spacingAndGlyphs">ADP + Pi</text>
<text class="ca" x="497" y="496" textLength="11" lengthAdjust="spacingAndGlyphs">Ca</text><text class="sp" x="514" y="491">2+</text>
<text class="lb" x="178" y="570" textLength="58" lengthAdjust="spacingAndGlyphs">Gap Junctions (Connexins)</text>

<text class="lk" x="580" y="94" textLength="35" lengthAdjust="spacingAndGlyphs">Protein Kinase A</text>
<text class="lk" x="588" y="161" textLength="24" lengthAdjust="spacingAndGlyphs">CaM kinase</text>
<text class="lk" x="590" y="226" textLength="25" lengthAdjust="spacingAndGlyphs">Calmodulin</text>
<text x="601" y="292" font-size="8" font-weight="bold" fill="#111">G</text><text x="611" y="294" font-size="5.5" font-weight="bold" fill="#111">b</text>
<text x="599" y="356" font-size="8" font-weight="bold" fill="#111">G</text><text x="610" y="358" font-size="5.5" font-weight="bold" fill="#111">g</text>
<text class="lk" x="586" y="452" textLength="26" lengthAdjust="spacingAndGlyphs">G alpha i/o/z</text>
<text class="lk" x="682" y="147" textLength="45" lengthAdjust="spacingAndGlyphs">PKC inhibitor Protein-1</text>
<text class="lk" x="688" y="229" textLength="9" lengthAdjust="spacingAndGlyphs">GRK</text>
<text class="lk" x="724" y="229" textLength="31" lengthAdjust="spacingAndGlyphs">PKA Inhibitors</text>
<text class="lk" x="699" y="298" textLength="29" lengthAdjust="spacingAndGlyphs">beta Arrestin</text>
<text class="lk" x="693" y="350" textLength="34" lengthAdjust="spacingAndGlyphs">Protein Kinase C</text>
</g>
</svg>
